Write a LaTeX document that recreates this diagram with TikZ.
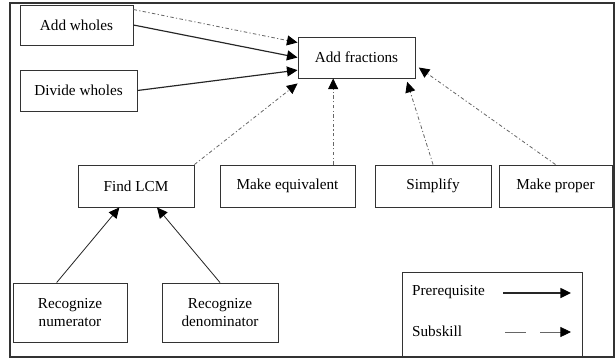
\documentclass[tikz,border=0pt]{standalone}
\usepackage{fontspec}
\setmainfont{Liberation Serif}
\usetikzlibrary{arrows.meta}
\tikzstyle{arrow} = [-{Triangle[length=9pt,width=8.5pt,color=black]},line width=1pt,black!85]
\tikzstyle{subarrow} = [arrow,line width=0.7pt,black!60,dash pattern=on 3pt off 2pt on 1pt off 2pt]
\tikzstyle{skill} = [draw,black!80,text=black,rectangle,line width=0.8pt,align=center,font=\fontsize{13}{16}\selectfont]

\begin{document}
\begin{tikzpicture}[x=0.03cm,y=-0.03cm]
        \useasboundingbox (0,0) rectangle (616,359);
        \draw[black!80, line width=1.3pt] (10,3) rectangle (614,357);
        % skills
        \node[skill, minimum width=3.39cm, minimum height=1.2cm] at (76.5,25) (addwholes) {Add wholes};
        \node[skill, minimum width=3.51cm, minimum height=1.23cm] at (78.5,90.5) (dividewholes) {Divide wholes};
        \node[skill, minimum width=3.51cm, minimum height=1.23cm] at (356.5,57.5) (addfrac) {Add fractions};
        \node[skill, minimum width=3.48cm, minimum height=1.26cm] at (136,186) (findlcm) {Find LCM};
        \node[skill, minimum width=4.05cm, minimum height=1.26cm] at (287.5,186) (makeequiv) {Make equivalent};
        \node[skill, minimum width=3.48cm, minimum height=1.26cm] at (433,186) (simplify) {Simplify};
        \node[skill, minimum width=3.39cm, minimum height=1.26cm] at (555.5,186) (makeproper) {Make proper};
        \node[skill, minimum width=3.42cm, minimum height=1.77cm] at (70,312.5) (recnum) {Recognize\\numerator};
        \node[skill, minimum width=3.48cm, minimum height=1.77cm] at (220,312.5) (recden) {Recognize\\denominator};

        \draw[subarrow] ([yshift=-0.15cm]addwholes.north east) -- ([yshift=-0.18cm]addfrac.north west);
        \draw[arrow] (addwholes.east) -- (addfrac.west);
        \draw[arrow] (dividewholes.east) -- ([yshift=0.25cm]addfrac.south west);
        \draw[subarrow] (findlcm.north east) -- ([yshift=-0.15cm]addfrac.south west);
        \coordinate (eqtop) at ([xshift=-0.7cm]addfrac.south);
        \draw[subarrow] (makeequiv.north -| eqtop) -- (eqtop);
        \draw[subarrow] (simplify.north) -- ([shift={(-0.25cm,-0.1cm)}]addfrac.south east);
        \draw[subarrow] (makeproper.north) -- ([shift={(0.1cm,-0.3cm)}]addfrac.east);
        \draw[arrow, line width=0.7pt] ([xshift=-0.4cm]recnum.north) -- ([xshift=-0.5cm]findlcm.south);
        \draw[arrow, line width=0.7pt] (recden.north) -- ([xshift=0.63cm]findlcm.south);

        % legend
        \node[skill, minimum width=5.4cm, minimum height=2.55cm] at (492,314.5) (legend) {};
        \node[anchor=west, font=\fontsize{13}{16}\selectfont] at (408,292) (pre) {Prerequisite};
        \node[anchor=west, font=\fontsize{13}{16}\selectfont] at (408,331) (sub) {Subskill};
        \coordinate (pa) at (503,293);
        \coordinate (pb) at (571,293);
        \coordinate (sa) at (505,332);
        \coordinate (sb) at (571,332);
        \draw[arrow] (pa) -- (pb);
        \draw[arrow, line width=0.7pt, black!60, dash pattern=on 0.63cm off 0.42cm] (sa) -- (sb);
    \end{tikzpicture}
\end{document}
